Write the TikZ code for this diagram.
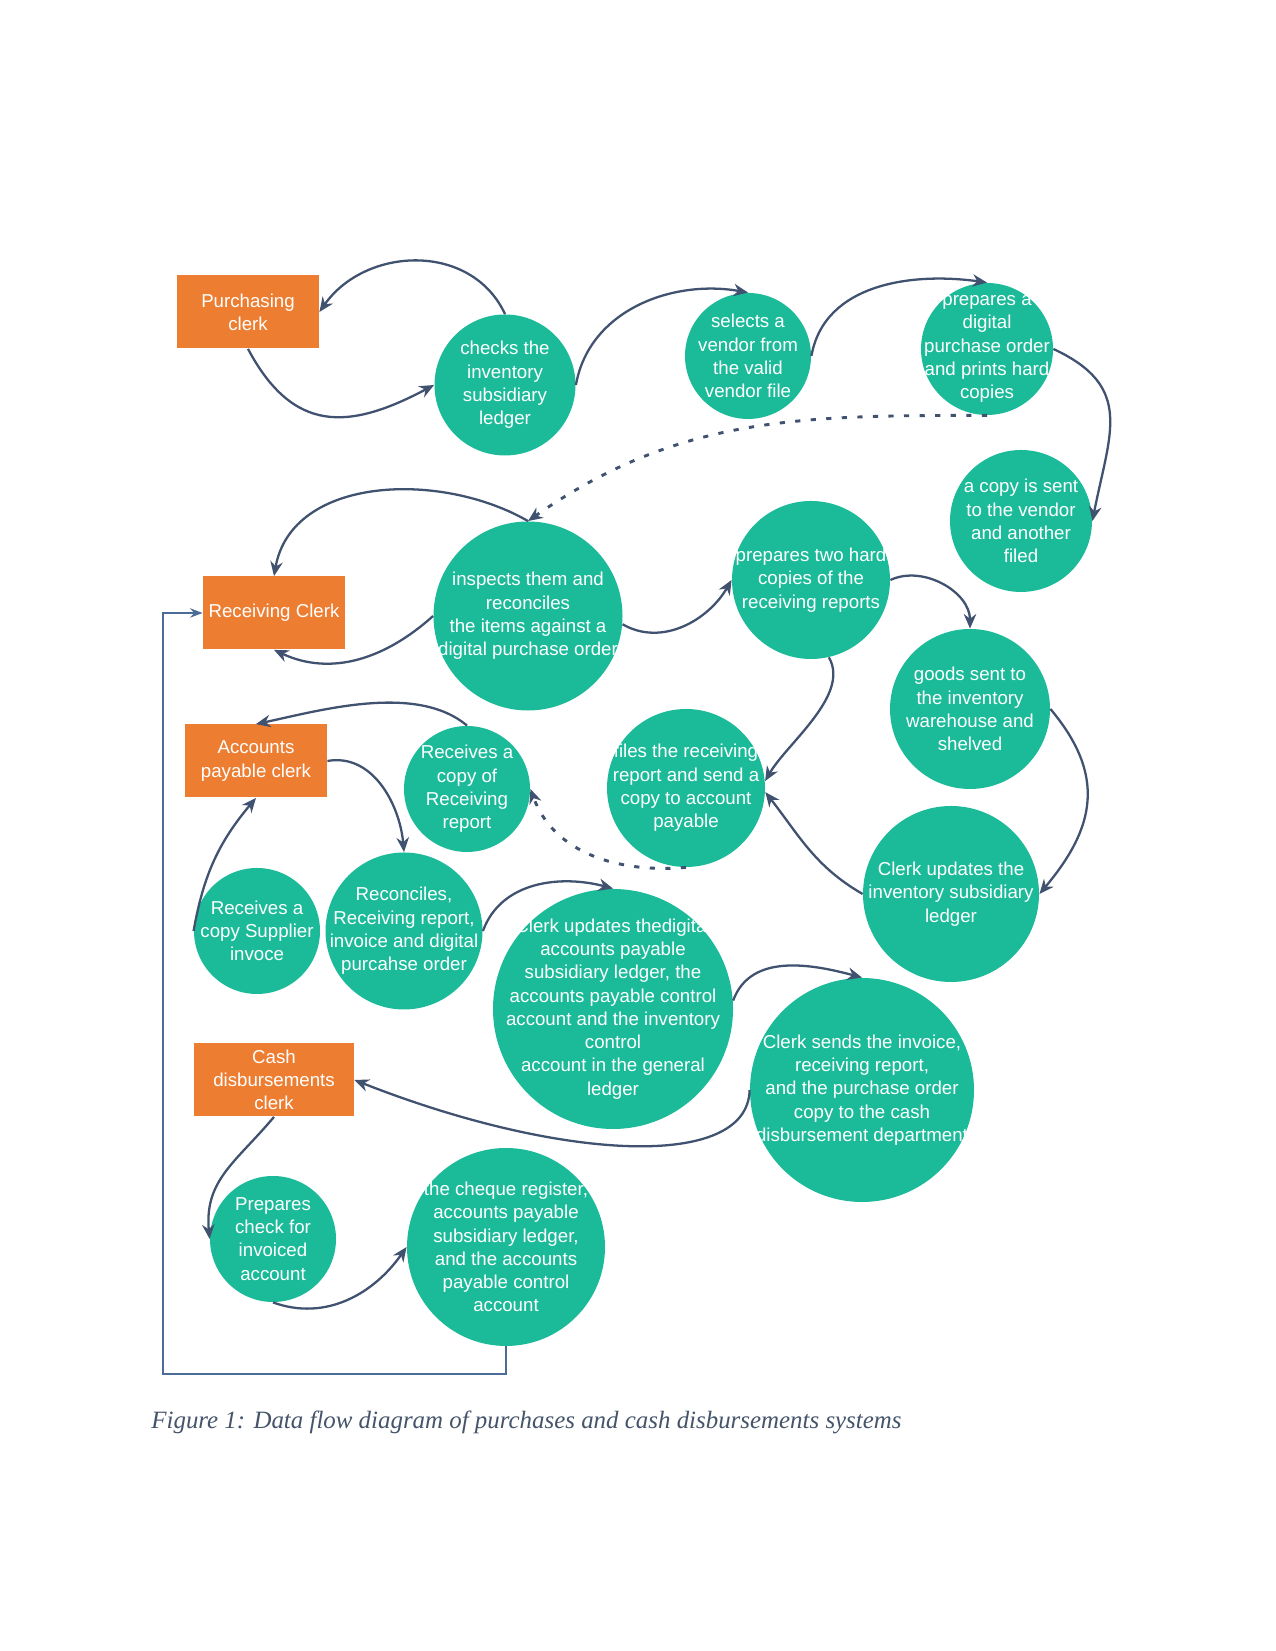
\documentclass[tikz,border=0pt]{standalone}
\usepackage{fontspec}
\setmainfont{Liberation Serif}
\setsansfont{Liberation Sans}
\usepackage{tikz}
\usetikzlibrary{arrows.meta}
\usepackage{xcolor}
\definecolor{procgreen}{RGB}{27,187,154}
\definecolor{clerkorange}{RGB}{237,125,49}
\definecolor{flowblue}{RGB}{64,82,112}
\definecolor{loopblue}{RGB}{74,108,150}
\definecolor{captiongray}{RGB}{68,84,106}
\newcommand{\pxu}{0.4818pt}
\tikzset{
  proc/.style={circle, fill=procgreen, text=white, inner sep=-20pt, align=center,
               font=\sffamily\fontsize{9}{11.2}\selectfont},
  clerk/.style={rectangle, fill=clerkorange, text=white, inner sep=0pt, align=center,
               minimum height=73*\pxu, font=\sffamily\fontsize{9}{11.2}\selectfont},
  flow/.style={draw=flowblue, line width=1.1pt, -{Stealth[length=7pt,width=6pt]}},
  dotflow/.style={flow, dash pattern=on 2.5pt off 5pt, line width=1.4pt},
  backflow/.style={draw=loopblue, line width=0.9pt, -{Stealth[length=6pt]}},
}

\begin{document}
\begin{tikzpicture}[x=\pxu, y=\pxu]
    \path[use as bounding box, fill=white] (0,0) rectangle (1275,1651);
    %% clerks
    \node[clerk, minimum width=142*\pxu] (pc)  at (248,1339) {Purchasing\\clerk};
    \node[clerk, minimum width=142*\pxu] (rc)  at (274,1038) {Receiving Clerk};
    \node[clerk, minimum width=142*\pxu] (apc) at (256,890)  {Accounts\\payable clerk};
    \node[clerk, minimum width=160*\pxu] (cdc) at (274,571)  {Cash\\disbursements\\clerk};
    %% purchasing
    \node[proc, minimum size=141*\pxu] (chk)  at (505,1266) {checks the\\inventory\\subsidiary\\ledger};
    \node[proc, minimum size=126*\pxu] (sel)  at (748,1295) {selects a\\vendor from\\the valid\\vendor file};
    \node[proc, minimum size=132*\pxu] (prep) at (987,1302) {prepares a\\digital\\purchase order\\and prints hard\\copies};
    \node[proc, minimum size=142*\pxu] (sent) at (1021,1130) {a copy is sent\\to the vendor\\and another\\filed};
    %% receiving
    \node[proc, minimum size=189*\pxu] (insp)  at (528,1035) {inspects them and\\reconciles\\the items against a\\digital purchase order};
    \node[proc, minimum size=158*\pxu] (hard)  at (811,1071) {prepares two hard\\copies of the\\receiving reports};
    \node[proc, minimum size=160*\pxu] (shelf) at (970,942)  {goods sent to\\the inventory\\warehouse and\\shelved};
    \node[proc, minimum size=158*\pxu] (fil)   at (686,863)  {files the receiving\\report and send a\\copy to account\\payable};
    \node[proc, minimum size=176*\pxu] (invupd) at (951,757) {Clerk updates the\\inventory subsidiary\\ledger};
    %% accounts payable
    \node[proc, minimum size=126*\pxu] (rcopy)  at (467,862) {Receives a\\copy of\\Receiving\\report};
    \node[proc, minimum size=126*\pxu] (supinv) at (257,720) {Receives a\\copy Supplier\\invoce};
    \node[proc, minimum size=157*\pxu] (recon)  at (404,720) {Reconciles,\\Receiving report,\\invoice and digital\\purcahse order};
    \node[proc, minimum size=240*\pxu] (apupd)  at (613,642) {Clerk updates thedigital\\accounts payable\\subsidiary ledger, the\\accounts payable control\\account and the inventory\\control\\account in the general\\ledger};
    \node[proc, minimum size=224*\pxu] (sendinv) at (862,561) {Clerk sends the invoice,\\receiving report,\\and the purchase order\\copy to the cash\\disbursement department};
    %% cash disbursements
    \node[proc, minimum size=126*\pxu] (check) at (273,412) {Prepares\\check for\\invoiced\\account};
    \node[proc, minimum size=198*\pxu] (reg)   at (506,404) {the cheque register,\\accounts payable\\subsidiary ledger,\\and the accounts\\payable control\\account};
    %% flows
    \draw[flow] (chk.north) to[out=115, in=55, looseness=1.1] (pc.east);
    \draw[flow] (pc.south) to[out=-62, in=208, looseness=1.3] (chk.west);
    \draw[flow] (chk.east) to[out=80, in=170] (sel.north);
    \draw[flow] (sel.east) to[out=80, in=172] (prep.north);
    \draw[flow] (prep.east) to[out=-25, in=79, looseness=1.3] (sent.east);
    \draw[dotflow] (prep.south) to[out=180, in=35] (insp.north);
    \draw[flow] (insp.north) to[out=150, in=80] (rc.north);
    \draw[flow] (insp.west) to[out=222, in=-25] (rc.south);
    \draw[flow] (insp.-5) to[out=-30, in=240] (hard.west);
    \draw[flow] (hard.east) to[out=25, in=90] (shelf.north);
    \draw[flow] (hard.-77) to[out=-60, in=60, looseness=0.8] (fil.5);
    \draw[flow] (shelf.east) to[out=-50, in=50, looseness=1.2] (invupd.east);
    \draw[flow] (invupd.west) to[out=150, in=-52] (fil.-3);
    \draw[dotflow] (fil.south) to[out=185, in=-70] (rcopy.east);
    \draw[flow] (rcopy.north) to[out=140, in=12, looseness=0.8] (apc.north);
    \draw[flow] (apc.east) to[out=10, in=95] (recon.north);
    \draw[flow] (supinv.west) to[out=80, in=230] (apc.south);
    \draw[flow] (recon.east) to[out=70, in=165] (apupd.north);
    \draw[flow] (apupd.4) to[out=70, in=165] (sendinv.north);
    \draw[flow] (sendinv.west) .. controls (748,480) and (560,490) .. (cdc.east);
    \draw[flow] (cdc.south) to[out=230, in=95, looseness=1.1] (check.west);
    \draw[flow] (check.south) to[out=-20, in=235] (reg.west);
    % loop back to receiving
    \coordinate (loopcorner) at (163,277);
    \draw[backflow] (reg.south) |- (loopcorner) |- (rc.west);
    \node[anchor=base west, inner sep=0pt, text=captiongray,
          font=\itshape\fontsize{12}{14}\selectfont] (caption) at (151,222)
          {Figure 1: Data flow diagram of purchases and cash disbursements systems};
\end{tikzpicture}
\end{document}
